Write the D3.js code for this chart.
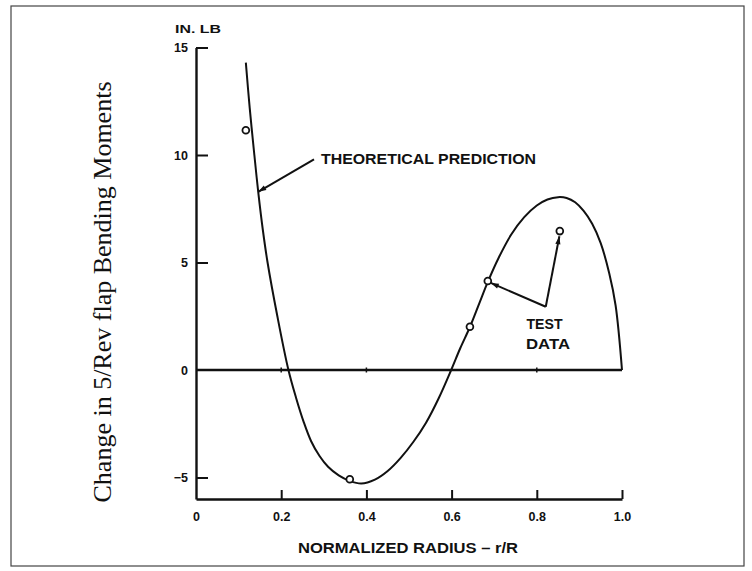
<!DOCTYPE html>
<html>
<head>
<meta charset="utf-8">
<script src="https://cdn.jsdelivr.net/npm/d3@7"></script>
<style>
  html, body { margin: 0; padding: 0; background: #fff; }
  svg { display: block; }
  .lbl { font-family: "Liberation Sans", Arial, sans-serif; font-weight: bold; fill: #111; }
</style>
</head>
<body>
<svg id="chart" width="752" height="571"></svg>
<script>
// theoretical prediction curve (r/R, in-lb)
const predX = [0.117, 0.126, 0.137, 0.146, 0.157, 0.168, 0.191, 0.217, 0.235, 0.2525, 0.27, 0.29, 0.31, 0.335, 0.36, 0.388, 0.42, 0.45, 0.48, 0.51, 0.54, 0.57, 0.599, 0.62, 0.643, 0.665, 0.685, 0.71, 0.74, 0.77, 0.80, 0.825, 0.85, 0.87, 0.89, 0.91, 0.93, 0.95, 0.97, 0.985, 1.0];
const predY = [14.3, 12.2, 10.0, 8.3, 6.5, 5.0, 2.5, 0.0, -1.3, -2.4, -3.3, -4.0, -4.5, -4.9, -5.15, -5.28, -5.1, -4.7, -4.1, -3.35, -2.45, -1.3, 0.0, 1.0, 2.0, 3.1, 4.1, 5.2, 6.3, 7.1, 7.65, 7.93, 8.04, 8.0, 7.8, 7.4, 6.8, 5.9, 4.5, 3.0, 0.0];

// test data points
const testX = [0.117, 0.361, 0.643, 0.685, 0.854];
const testY = [11.15, -5.08, 2.01, 4.14, 6.46];

// axis ticks
const xTickValues = [0, 0.2, 0.4, 0.6, 0.8, 1.0];
const xTickLabels = ["0", "0.2", "0.4", "0.6", "0.8", "1.0"];
const yTickValues = [15, 10, 5, 0, -5];
const yTickLabels = ["15", "10", "5", "0", "\u22125"];

const xTitle = "NORMALIZED RADIUS \u2013 r/R";
const yTitle = "Change in 5/Rev flap Bending Moments";
const unitLabel = "IN. LB";

const svgEl = document.getElementById("chart");
const svg = d3.select(svgEl);
const width = 752, height = 571;
const margin = { top: 47.5, right: 130, bottom: 72, left: 196 };
const innerWidth = width - margin.left - margin.right;
const innerHeight = height - margin.top - margin.bottom;

// frame around the figure
svg.append("rect")
  .attr("x", 11).attr("y", 6)
  .attr("width", 733).attr("height", 560)
  .attr("fill", "none")
  .attr("stroke", "#444")
  .attr("stroke-width", 1.2);

const g = svg.append("g").attr("transform", `translate(${margin.left},${margin.top})`);

const x = d3.scaleLinear().domain([0, 1]).range([0, innerWidth]);
const y = d3.scaleLinear().domain([-6, 15]).range([innerHeight, 0]);

// ─── axes ───
const xAxis = d3.axisBottom(x)
  .tickValues(xTickValues)
  .tickFormat((d, i) => xTickLabels[i])
  .tickSize(-9)
  .tickPadding(13)
  .tickSizeOuter(0);
const yAxis = d3.axisLeft(y)
  .tickValues(yTickValues)
  .tickFormat((d, i) => yTickLabels[i])
  .tickSize(-12)
  .tickPadding(8)
  .tickSizeOuter(0);

const xAxisG = g.append("g").attr("transform", `translate(0,${innerHeight})`).call(xAxis);
const yAxisG = g.append("g").call(yAxis);

[xAxisG, yAxisG].forEach((ax) => {
  ax.select(".domain").attr("stroke", "#111").attr("stroke-width", 2.4);
  ax.selectAll(".tick line").attr("stroke", "#111").attr("stroke-width", 2);
  ax.selectAll(".tick text")
    .attr("class", "lbl")
    .style("font-size", "12.5px")
    .attr("fill", "#111");
});
xAxisG.selectAll(".tick").filter((d) => d === 0).select("line").remove();
yAxisG.selectAll(".tick").filter((d) => d === 0).select("line").remove();

// zero line with its small marks
g.append("line")
  .attr("x1", x(0)).attr("x2", x(1))
  .attr("y1", y(0)).attr("y2", y(0))
  .attr("stroke", "#111").attr("stroke-width", 2.4);
g.selectAll(".zero-mark")
  .data([0.2, 0.4, 0.8])
  .enter().append("line")
  .attr("class", "zero-mark")
  .attr("x1", (d) => x(d)).attr("x2", (d) => x(d))
  .attr("y1", y(0) - 2.5).attr("y2", y(0) + 2.5)
  .attr("stroke", "#111").attr("stroke-width", 1.5);

// ─── prediction curve ───
const predData = predX.map((v, i) => ({ r: v, m: predY[i] }));
g.append("path")
  .datum(predData)
  .attr("fill", "none")
  .attr("stroke", "#111")
  .attr("stroke-width", 2)
  .attr("d", d3.line().curve(d3.curveCatmullRom.alpha(0.5)).x((d) => x(d.r)).y((d) => y(d.m)));

// ─── annotations ───
function arrow(x1, y1, x2, y2) {
  const px1 = x(x1), py1 = y(y1), px2 = x(x2), py2 = y(y2);
  g.append("line")
    .attr("x1", px1).attr("y1", py1).attr("x2", px2).attr("y2", py2)
    .attr("stroke", "#111").attr("stroke-width", 2);
  const a = Math.atan2(py2 - py1, px2 - px1);
  const len = 8, w = 2.6;
  const bx = px2 - len * Math.cos(a), by = py2 - len * Math.sin(a);
  g.append("path")
    .attr("d", `M${px2},${py2}L${bx - w * Math.sin(a)},${by + w * Math.cos(a)}L${bx + w * Math.sin(a)},${by - w * Math.cos(a)}Z`)
    .attr("fill", "#111");
}
arrow(0.277, 9.8, 0.146, 8.29);
arrow(0.821, 2.94, 0.692, 4.05);
arrow(0.821, 2.94, 0.853, 6.22);

svg.append("text").attr("class", "lbl")
  .attr("x", 321).attr("y", 163.5)
  .attr("textLength", 215).attr("lengthAdjust", "spacingAndGlyphs")
  .style("font-size", "14.5px")
  .text("THEORETICAL PREDICTION");
svg.append("text").attr("class", "lbl")
  .attr("x", 526.5).attr("y", 328.5)
  .attr("textLength", 36).attr("lengthAdjust", "spacingAndGlyphs")
  .style("font-size", "15px").text("TEST");
svg.append("text").attr("class", "lbl")
  .attr("x", 526).attr("y", 348.5)
  .attr("textLength", 44).attr("lengthAdjust", "spacingAndGlyphs")
  .style("font-size", "15px").text("DATA");

// ─── test data circles ───
g.selectAll(".pt")
  .data(testX.map((v, i) => ({ r: v, m: testY[i] })))
  .enter().append("circle")
  .attr("class", "pt")
  .attr("cx", (d) => x(d.r)).attr("cy", (d) => y(d.m))
  .attr("r", 3.4)
  .attr("fill", "#fff")
  .attr("stroke", "#111")
  .attr("stroke-width", 1.8);

// ─── titles ───
svg.append("text").attr("class", "lbl")
  .attr("x", 175).attr("y", 33)
  .attr("textLength", 46).attr("lengthAdjust", "spacingAndGlyphs")
  .style("font-size", "11px").text(unitLabel);

svg.append("text").attr("class", "lbl")
  .attr("x", 408).attr("y", 552.5)
  .attr("text-anchor", "middle")
  .attr("textLength", 220).attr("lengthAdjust", "spacingAndGlyphs")
  .style("font-size", "14px").text(xTitle);

svg.append("text")
  .attr("transform", "translate(111,292) rotate(-90)")
  .attr("text-anchor", "middle")
  .style("font-family", "'Liberation Serif', 'Times New Roman', serif")
  .style("font-size", "26px")
  .attr("fill", "#111")
  .text(yTitle);
</script>
</body>
</html>
